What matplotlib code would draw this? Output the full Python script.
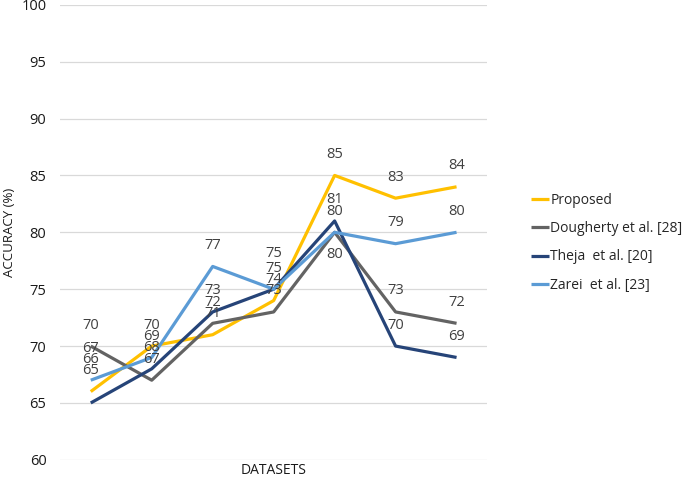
import matplotlib
matplotlib.use('Agg')
import matplotlib.pyplot as plt

# accuracy per dataset (7 datasets, no names shown on the axis)
proposed = [66, 70, 71, 74, 85, 83, 84]
dougherty = [70, 67, 72, 73, 80, 73, 72]
theja = [65, 68, 73, 75, 81, 70, 69]
zarei = [67, 69, 77, 75, 80, 79, 80]

series = [
    ('Proposed', proposed, '#FFC000'),
    ('Dougherty et al. [28]', dougherty, '#636363'),
    ('Theja  et al. [20]', theja, '#264478'),
    ('Zarei  et al. [23]', zarei, '#5B9BD5'),
]

# label nudges (pixels) where the labels would collide
label_shift = {
    ('Proposed', 0): 11, ('Theja  et al. [20]', 0): 11, ('Zarei  et al. [23]', 0): 11,
    ('Zarei  et al. [23]', 3): 15,
    ('Dougherty et al. [28]', 4): -43,
}

plt.rcParams['font.family'] = ['Open Sans', 'DejaVu Sans']

fig = plt.figure(figsize=(6.85, 4.78), dpi=100)
ax = fig.add_axes([0.088, 0.038, 0.623, 0.952])

x = list(range(len(proposed)))
for name, vals, col in series:
    ax.plot(x, vals, color=col, lw=2.3, label=name, solid_capstyle='butt', zorder=3)
    for i, v in zip(x, vals):
        dy = 21 + label_shift.get((name, i), 0)
        ax.annotate(str(v), (i, v), xytext=(0, dy), textcoords='offset pixels',
                    ha='center', va='center', fontsize=10.5, color='#404040', zorder=4)

ax.set_xlim(-0.5, len(proposed) - 0.5)
ax.set_ylim(60, 100)
ax.set_yticks(range(60, 101, 5))
ax.set_xticks([])
ax.grid(axis='y', color='#D9D9D9', lw=0.9)
ax.set_axisbelow(True)
for s in ax.spines.values():
    s.set_visible(False)
ax.tick_params(axis='y', length=0, pad=10, labelsize=10.5, labelcolor='#1a1a1a')
ax.set_ylabel('ACCURACY (%)', fontsize=9.5, color='#1a1a1a', labelpad=4)
ax.set_xlabel('DATASETS', fontsize=10, color='#1a1a1a', labelpad=2)

fig.legend(loc='center left', bbox_to_anchor=(0.775, 0.492), frameon=False,
           fontsize=10, handlelength=1.3, handletextpad=0.1, labelspacing=0.95,
           borderpad=0, borderaxespad=0, labelcolor='#262626')

fig.savefig('out.png', dpi=100)
